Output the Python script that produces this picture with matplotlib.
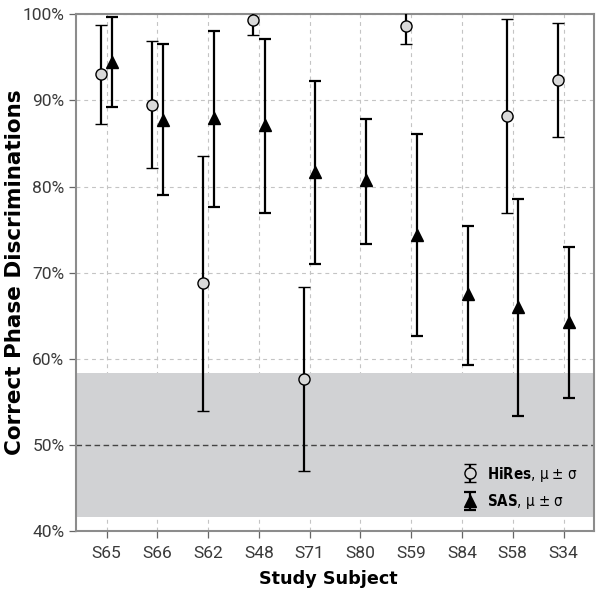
import numpy as np
import matplotlib.pyplot as plt
from matplotlib.ticker import PercentFormatter
from matplotlib.font_manager import FontProperties
from matplotlib.container import ErrorbarContainer
from matplotlib.legend_handler import HandlerErrorbar

# Values (percent)
subjects = ["S65", "S66", "S62", "S48", "S71", "S80", "S59", "S84", "S58", "S34"]

hires_mean = [93.1, 89.5, 68.8, 99.3, 57.7, np.nan, 98.6, np.nan, 88.2, 92.4]
hires_low = [87.3, 82.2, 53.9, 97.6, 47.0, np.nan, 96.5, np.nan, 76.9, 85.7]
hires_high = [98.8, 96.9, 83.6, 101.0, 68.3, np.nan, 100.7, np.nan, 99.5, 99.0]

sas_mean = [94.5, 87.7, 87.9, 87.1, 81.7, 80.7, 74.4, 67.5, 66.0, 64.3]
sas_low = [89.2, 79.0, 77.6, 76.9, 71.0, 73.3, 62.7, 59.3, 53.3, 55.5]
sas_high = [99.7, 96.5, 98.1, 97.1, 92.2, 87.8, 86.1, 75.4, 78.6, 73.0]

chance = 50.0
chance_band = (41.6, 58.4)

plt.rcParams['mathtext.fontset'] = 'custom'
plt.rcParams['mathtext.bf'] = 'DejaVu Sans:bold:stretch=condensed'
plt.rcParams['mathtext.rm'] = 'DejaVu Sans:stretch=condensed'

fig = plt.figure(figsize=(6.0, 5.94), dpi=100)
ax = fig.add_axes([0.127, 0.106, 0.863, 0.870])

x = np.arange(len(subjects))
off = 0.11

# chance region
ax.axhspan(chance_band[0], chance_band[1], color="#d1d2d4", zorder=1, lw=0)
ax.axhline(chance, color="#444444", ls=(0, (4, 2.5)), lw=1.0, zorder=2)

h_mean = np.array(hires_mean)
ok = ~np.isnan(h_mean)
h_err = [h_mean[ok] - np.array(hires_low)[ok], np.array(hires_high)[ok] - h_mean[ok]]
ax.errorbar(x[ok] - off, h_mean[ok], yerr=h_err, fmt="o", color="black",
            mfc="#d9d9d9", mec="black", mew=1.0, ms=8, elinewidth=1.6,
            capsize=4, capthick=1.6, zorder=4, label=r"$\mathbf{HiRes}$, μ ± σ")

s_mean = np.array(sas_mean)
s_err = [s_mean - np.array(sas_low), np.array(sas_high) - s_mean]
ax.errorbar(x + off, s_mean, yerr=s_err, fmt="^", color="black",
            mfc="black", mec="black", ms=8.5, elinewidth=1.6,
            capsize=4, capthick=1.6, zorder=4, label=r"$\mathbf{SAS}$, μ ± σ")

ax.set_xlim(-0.6, 9.6)
ax.set_ylim(40, 100)
ax.set_xticks(x)
ax.set_xticklabels(subjects)
ax.set_yticks(np.arange(40, 101, 10))
ax.yaxis.set_major_formatter(PercentFormatter(decimals=0))

ax.grid(True, color="#c4c4c4", ls=(0, (3.5, 3.5)), lw=0.8, zorder=0)
ax.set_axisbelow(True)

for s in ax.spines.values():
    s.set_color("#8c8c8c")
    s.set_linewidth(1.5)
ax.tick_params(axis="both", direction="out", length=5, width=0.9, color="#666666",
               labelcolor="#3a3a3a", labelsize=12.5)
ax.tick_params(axis="x", pad=5.5)
for lab in ax.get_xticklabels() + ax.get_yticklabels():
    lab.set_family("Roboto")
    lab.set_fontweight("normal")

ax.set_xlabel("Study Subject", fontsize=12.7, fontweight="bold",
              family="DejaVu Sans", labelpad=7)
ax.xaxis.label.set_x(0.4875)
ax.set_ylabel("Correct Phase Discriminations", fontsize=15.5, fontweight="bold",
              family="DejaVu Sans")
ax.yaxis.set_label_coords(-0.098, 0.5)

leg = ax.legend(loc="lower right", bbox_to_anchor=(1.0, 0.006), frameon=False,
                prop=FontProperties(family="DejaVu Sans", stretch="condensed", size=10.8),
                handlelength=1.0, handleheight=1.0, handletextpad=0.65,
                labelspacing=0.55, borderaxespad=0.7,
                handler_map={ErrorbarContainer: HandlerErrorbar(yerr_size=0.6)})

fig.savefig("out.png", dpi=100)
